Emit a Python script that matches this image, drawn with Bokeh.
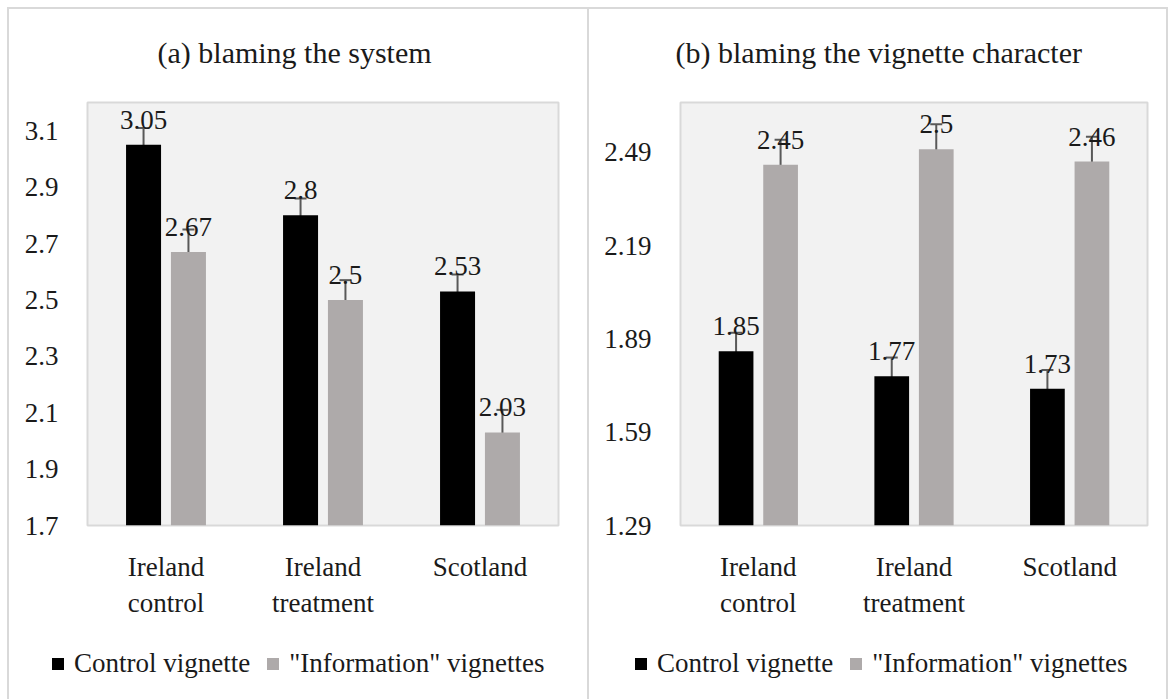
from bokeh.plotting import figure
from bokeh.models import (FactorRange, ColumnDataSource, Whisker, TeeHead, FixedTicker,
                          Legend, LegendItem, InlineStyleSheet)
from bokeh.transform import dodge
from bokeh.layouts import row, column
from bokeh.core.properties import value
from bokeh.embed import file_html
from bokeh.resources import INLINE

# ---- data ----
categories = ["Ireland\ncontrol", "Ireland\ntreatment", "Scotland"]
series_names = ["Control vignette", "\"Information\" vignettes"]

a_title = "(a) blaming the system"
a_control = [3.05, 2.8, 2.53]
a_info = [2.67, 2.5, 2.03]
a_control_err = [0.06, 0.06, 0.06]
a_info_err = [0.08, 0.07, 0.08]
a_ticks = [1.7, 1.9, 2.1, 2.3, 2.5, 2.7, 2.9, 3.1]
a_range = [1.7, 3.2]

b_title = "(b) blaming the vignette character"
b_control = [1.85, 1.77, 1.73]
b_info = [2.45, 2.5, 2.46]
b_control_err = [0.06, 0.06, 0.06]
b_info_err = [0.08, 0.08, 0.08]
b_ticks = [1.29, 1.59, 1.89, 2.19, 2.49]
b_range = [1.29, 2.65]

FONT = "Liberation Serif"
TXT = "#1a1a1a"
BLACK = "#000000"
GREY = "#aeaaaa"
ERR = "#595959"
BORDER = "#d9d9d9"


def box_css(left, top, right_or_width, sides):
    pos = f"left: {left}px; top: {top}px; bottom: 0px; "
    pos += right_or_width
    b = " ".join(f"border-{s}: 2px solid {BORDER};" for s in sides)
    return InlineStyleSheet(css=":host::after { content: ''; position: absolute; " + pos +
                            " box-sizing: border-box; " + b +
                            " pointer-events: none; z-index: 10; }")


def make_panel(title, control, info, cerr, ierr, ticks, yr, width, bl, br, fw,
               title_off, css):
    src = ColumnDataSource(dict(
        cat=categories,
        c=control, i=info,
        c_lo=[v - e for v, e in zip(control, cerr)],
        c_hi=[v + e for v, e in zip(control, cerr)],
        i_lo=[v - e for v, e in zip(info, ierr)],
        i_hi=[v + e for v, e in zip(info, ierr)],
        c_txt=[f"{v:g}" for v in control],
        i_txt=[f"{v:g}" for v in info],
    ))
    p = figure(x_range=FactorRange(*categories), y_range=(yr[0], yr[1]),
               width=width, height=620, frame_width=fw, frame_height=423,
               min_border_left=bl, min_border_right=br, min_border_top=102,
               min_border_bottom=95,
               output_backend="svg", toolbar_location=None, tools="",
               stylesheets=[css])
    p.background_fill_color = "#f2f2f2"
    p.border_fill_color = "white"
    p.outline_line_color = BORDER
    p.outline_line_width = 2
    p.grid.visible = False

    p.title.text = title
    p.title.text_font = FONT
    p.title.text_font_size = "30px"
    p.title.text_font_style = "normal"
    p.title.text_color = TXT
    p.title.align = "left"
    p.title.offset = title_off
    p.title.standoff = 67

    for ax in (p.xaxis[0], p.yaxis[0]):
        ax.axis_line_color = None
        ax.major_tick_line_color = None
        ax.minor_tick_line_color = None
        ax.major_tick_out = 0
        ax.major_label_text_font = FONT
        ax.major_label_text_font_size = "27px"
        ax.major_label_text_color = TXT
    p.yaxis[0].ticker = FixedTicker(ticks=ticks)
    p.yaxis[0].major_label_overrides = {t: f"{t:g}" for t in ticks}
    p.yaxis[0].major_label_standoff = 29
    p.xaxis[0].major_label_standoff = 26

    off = 0.143
    bw = 0.223
    p.vbar(x=dodge("cat", -off, range=p.x_range), top="c", bottom=yr[0], width=bw,
           fill_color=BLACK, line_color=None, source=src)
    p.vbar(x=dodge("cat", off, range=p.x_range), top="i", bottom=yr[0], width=bw,
           fill_color=GREY, line_color=None, source=src)

    for key, o in (("c", -off), ("i", off)):
        p.text(x=dodge("cat", o, range=p.x_range), y=key, text=key + "_txt", source=src,
               text_align="center", text_baseline="bottom", y_offset=-16,
               text_font=value(FONT), text_font_size="27px", text_color=TXT)
        w = Whisker(base=dodge("cat", o, range=p.x_range), upper=key + "_hi", lower=key + "_lo",
                    source=src, line_color=ERR, line_width=2,
                    upper_head=TeeHead(size=12, line_color=ERR, line_width=2),
                    lower_head=TeeHead(size=12, line_color=ERR, line_width=2))
        p.add_layout(w)
    return p


def make_legend(width, leg_x, css):
    lf = figure(width=width, height=79, x_range=(0, 1), y_range=(0, 1),
                min_border=0, x_axis_location=None, y_axis_location=None,
                output_backend="svg", toolbar_location=None, tools="",
                stylesheets=[css])
    lf.grid.visible = False
    lf.outline_line_color = None
    lf.background_fill_color = "white"
    lf.border_fill_color = "white"
    # zero-size proxy bars: they only supply the legend swatches
    r1 = lf.vbar(x=[0], top=[0], bottom=0, width=0, fill_color=BLACK, line_color=None)
    r2 = lf.vbar(x=[0], top=[0], bottom=0, width=0, fill_color=GREY, line_color=None)
    legend = Legend(items=[LegendItem(label=series_names[0], renderers=[r1]),
                           LegendItem(label=series_names[1], renderers=[r2])],
                    orientation="horizontal", location=(leg_x, 20),
                    label_text_font=FONT, label_text_font_size="27px",
                    label_text_color=TXT, glyph_width=15, glyph_height=15,
                    label_standoff=9, spacing=15, padding=0, margin=0,
                    border_line_color=None, background_fill_alpha=0)
    lf.add_layout(legend, "center")
    return lf


pa = make_panel(a_title, a_control, a_info, a_control_err, a_info_err, a_ticks, a_range,
                588, 87, 30, 471, 70,
                box_css(7, 7, "width: 582px;", ["top", "left", "right"]))
pb = make_panel(b_title, b_control, b_info, b_control_err, b_info_err, b_ticks, b_range,
                580, 92, 21, 467, -5,
                box_css(0, 7, "right: 0px;", ["top", "right"]))
la = make_legend(588, 50, box_css(7, 0, "width: 582px;", ["left", "right"]))
lb = make_legend(580, 45, box_css(0, 0, "right: 0px;", ["right"]))

layout = column(row(pa, pb, spacing=0), row(la, lb, spacing=0), spacing=0)
open("out.html", "w").write(file_html(layout, INLINE))
